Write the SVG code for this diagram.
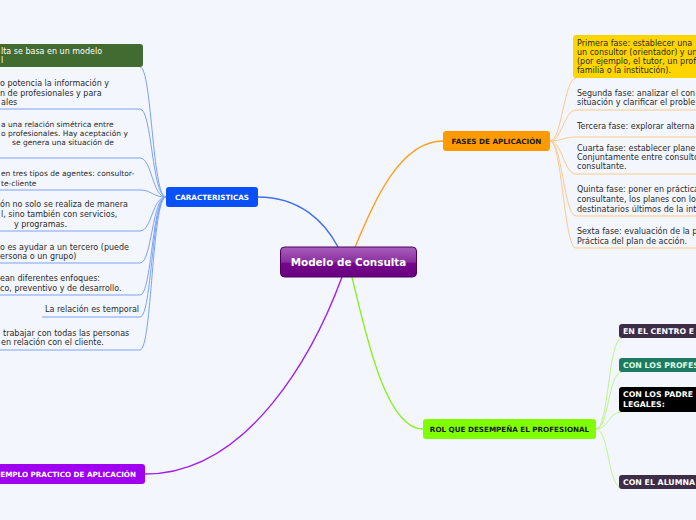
<svg xmlns="http://www.w3.org/2000/svg" width="696" height="520" viewBox="0 0 696 520">
<defs>
<linearGradient id="gc" x1="0" y1="0" x2="0" y2="1">
<stop offset="0" stop-color="#a860bb"/>
<stop offset="0.5" stop-color="#8a2fa0"/>
<stop offset="0.55" stop-color="#74078a"/>
<stop offset="1" stop-color="#6a0080"/>
</linearGradient>
</defs>
<style>
.t{font-family:"DejaVu Sans",Verdana,sans-serif;font-size:8px;fill:#2a2a2a}
.s{font-family:"DejaVu Sans",Verdana,sans-serif;font-size:7.5px;fill:#2a2a2a}
.h{font-family:"DejaVu Sans",Verdana,sans-serif;font-size:7.2px;font-weight:bold}
.b{font-family:"DejaVu Sans",Verdana,sans-serif;font-size:7.8px;font-weight:bold;fill:#fff}
.lb{fill:none;stroke:#7aa2f6;stroke-width:1}
.lo{fill:none;stroke:#ffc98a;stroke-width:1}
.ll{fill:none;stroke:#bdf58a;stroke-width:1}
.m{fill:none;stroke-width:1.4}
</style>
<rect width="696" height="520" fill="#f3f6fd"/>
<g id="connectors">
<path class="m" stroke="#3d6ff0" d="M258 197 C300 197 325 222 338 247"/>
<path class="m" stroke="#ffa020" d="M355 247 C375 200 400 141 443 141"/>
<path class="m" stroke="#8cf020" d="M352 277 C365 330 385 429 423 429"/>
<path class="m" stroke="#a020f0" d="M342 277 C315 350 250 474 145 474"/>
<path class="lb" d="M140 67 C152 67 152 197 166 197"/>
<path class="lb" d="M0 109 H140 C152 109 152 197 166 197"/>
<path class="lb" d="M0 158 H140 C152 158 152 197 166 197"/>
<path class="lb" d="M0 190 H140 C152 190 152 197 166 197"/>
<path class="lb" d="M0 231 H140 C152 231 152 197 166 197"/>
<path class="lb" d="M0 263 H140 C152 263 152 197 166 197"/>
<path class="lb" d="M0 295 H140 C152 295 152 197 166 197"/>
<path class="lb" d="M42 317 H140 C152 317 152 197 166 197"/>
<path class="lb" d="M0 350 H140 C152 350 152 197 166 197"/>
<path class="lo" d="M550 141 C562 141 564 78 576 78"/>
<path class="lo" d="M550 141 C562 141 564 110 576 110 H696"/>
<path class="lo" d="M550 141 C562 141 564 137 576 137 H696"/>
<path class="lo" d="M550 141 C562 141 564 174 576 174 H696"/>
<path class="lo" d="M550 141 C562 141 564 216 576 216 H696"/>
<path class="lo" d="M550 141 C562 141 564 248 576 248 H696"/>
<path class="ll" d="M596 429 C609 429 608 338 622 338"/>
<path class="ll" d="M596 429 C609 429 608 372 622 372"/>
<path class="ll" d="M596 429 C609 429 608 412 622 412"/>
<path class="ll" d="M596 429 C609 429 608 488 622 488"/>
</g>
<g id="central">
<rect x="280.5" y="247" width="136" height="30" rx="4" fill="url(#gc)" stroke="#4a0060"/>
<text x="348.5" y="266" text-anchor="middle" style="font-family:'DejaVu Sans',Verdana,sans-serif;font-size:10.4px;font-weight:bold;fill:#fff">Modelo de Consulta</text>
</g>
<g id="caracteristicas">
<rect x="166" y="187" width="92" height="20" rx="3" fill="#0a50f7"/>
<text class="h" x="212" y="200" text-anchor="middle" fill="#fff">CARACTERISTICAS</text>
</g>
<g id="fases">
<rect x="443" y="131" width="107" height="20" rx="3" fill="#ff9a00"/>
<text class="h" x="496.5" y="144" text-anchor="middle" fill="#1a1a1a">FASES DE APLICACIÓN</text>
</g>
<g id="rol">
<rect x="423" y="419" width="173" height="20" rx="3" fill="#80ff00"/>
<text class="h" x="509.5" y="432" text-anchor="middle" fill="#1a1a1a">ROL QUE DESEMPEÑA EL PROFESIONAL</text>
</g>
<g id="ejemplo">
<rect x="-6" y="464" width="151" height="20" rx="3" fill="#a000f0"/>
<text class="h" x="136" y="477" text-anchor="end" fill="#fff">EMPLO PRACTICO DE APLICACIÓN</text>
</g>
<g id="c1">
<rect x="-6" y="44" width="149" height="23" rx="3" fill="#426b32"/>
<text class="t" x="1" y="54" style="fill:#fff">lta se basa en un modelo</text>
<text class="t" x="1" y="63" style="fill:#fff">l</text>
</g>
<g id="c2">
<text class="t" x="0" y="86">o potencia la información y</text>
<text class="t" x="0" y="96">n de profesionales y para</text>
<text class="t" x="1" y="105">ales</text>
</g>
<g id="c3">
<text class="s" x="1" y="127">a una relación simétrica entre</text>
<text class="s" x="1" y="136">o profesionales. Hay aceptación y</text>
<text class="s" x="12" y="145">se genera una situación de</text>
</g>
<g id="c4">
<text class="s" x="1" y="176">en tres tipos de agentes: consultor-</text>
<text class="s" x="1" y="186">te-cliente</text>
</g>
<g id="c5">
<text class="t" x="0" y="207">ón no solo se realiza de manera</text>
<text class="t" x="1" y="217">l, sino también con servicios,</text>
<text class="t" x="14" y="227">y programas.</text>
</g>
<g id="c6">
<text class="t" x="0" y="250">o es ayudar a un tercero (puede</text>
<text class="t" x="0" y="259">ersona o un grupo)</text>
</g>
<g id="c7">
<text class="t" x="0" y="281">ean diferentes enfoques:</text>
<text class="t" x="0" y="291">co, preventivo y de desarrollo.</text>
</g>
<g id="c8">
<text class="t" x="45" y="312">La relación es temporal</text>
</g>
<g id="c9">
<text class="t" x="3" y="336">trabajar con todas las personas</text>
<text class="t" x="1" y="345">en relación con el cliente.</text>
</g>
<g id="f1">
<rect x="573" y="35" width="130" height="43" rx="3" fill="#ffd500"/>
<text class="t" x="577" y="46">Primera fase: establecer una</text>
<text class="t" x="577" y="55">un consultor (orientador) y un</text>
<text class="t" x="577" y="64">(por ejemplo, el tutor, un prof</text>
<text class="t" x="577" y="73">familia o la institución).</text>
</g>
<g id="f2">
<text class="t" x="577" y="96">Segunda fase: analizar el con</text>
<text class="t" x="577" y="105">situación y clarificar el proble</text>
</g>
<g id="f3">
<text class="t" x="577" y="129">Tercera fase: explorar alterna</text>
</g>
<g id="f4">
<text class="t" x="577" y="151">Cuarta fase: establecer plane</text>
<text class="t" x="577" y="160">Conjuntamente entre consulto</text>
<text class="t" x="577" y="169">consultante.</text>
</g>
<g id="f5">
<text class="t" x="577" y="192">Quinta fase: poner en práctica</text>
<text class="t" x="577" y="202">consultante, los planes con lo</text>
<text class="t" x="577" y="212">destinatarios últimos de la int</text>
</g>
<g id="f6">
<text class="t" x="577" y="234">Sexta fase: evaluación de la p</text>
<text class="t" x="577" y="244">Práctica del plan de acción.</text>
</g>
<g id="r1">
<rect x="619" y="324" width="84" height="14" rx="3" fill="#3d2d47"/>
<text class="b" x="623" y="334">EN EL CENTRO E</text>
</g>
<g id="r2">
<rect x="619" y="358" width="84" height="14" rx="3" fill="#1d7a60"/>
<text class="b" x="623" y="368" style="fill:#dcffe8">CON LOS PROFES</text>
</g>
<g id="r3">
<rect x="619" y="387" width="84" height="25" rx="3" fill="#000"/>
<text class="b" x="623" y="397">CON LOS PADRE</text>
<text class="b" x="623" y="407">LEGALES:</text>
</g>
<g id="r4">
<rect x="619" y="475" width="84" height="14" rx="3" fill="#3d2d47"/>
<text class="b" x="623" y="485">CON EL ALUMNA</text>
</g>
</svg>
